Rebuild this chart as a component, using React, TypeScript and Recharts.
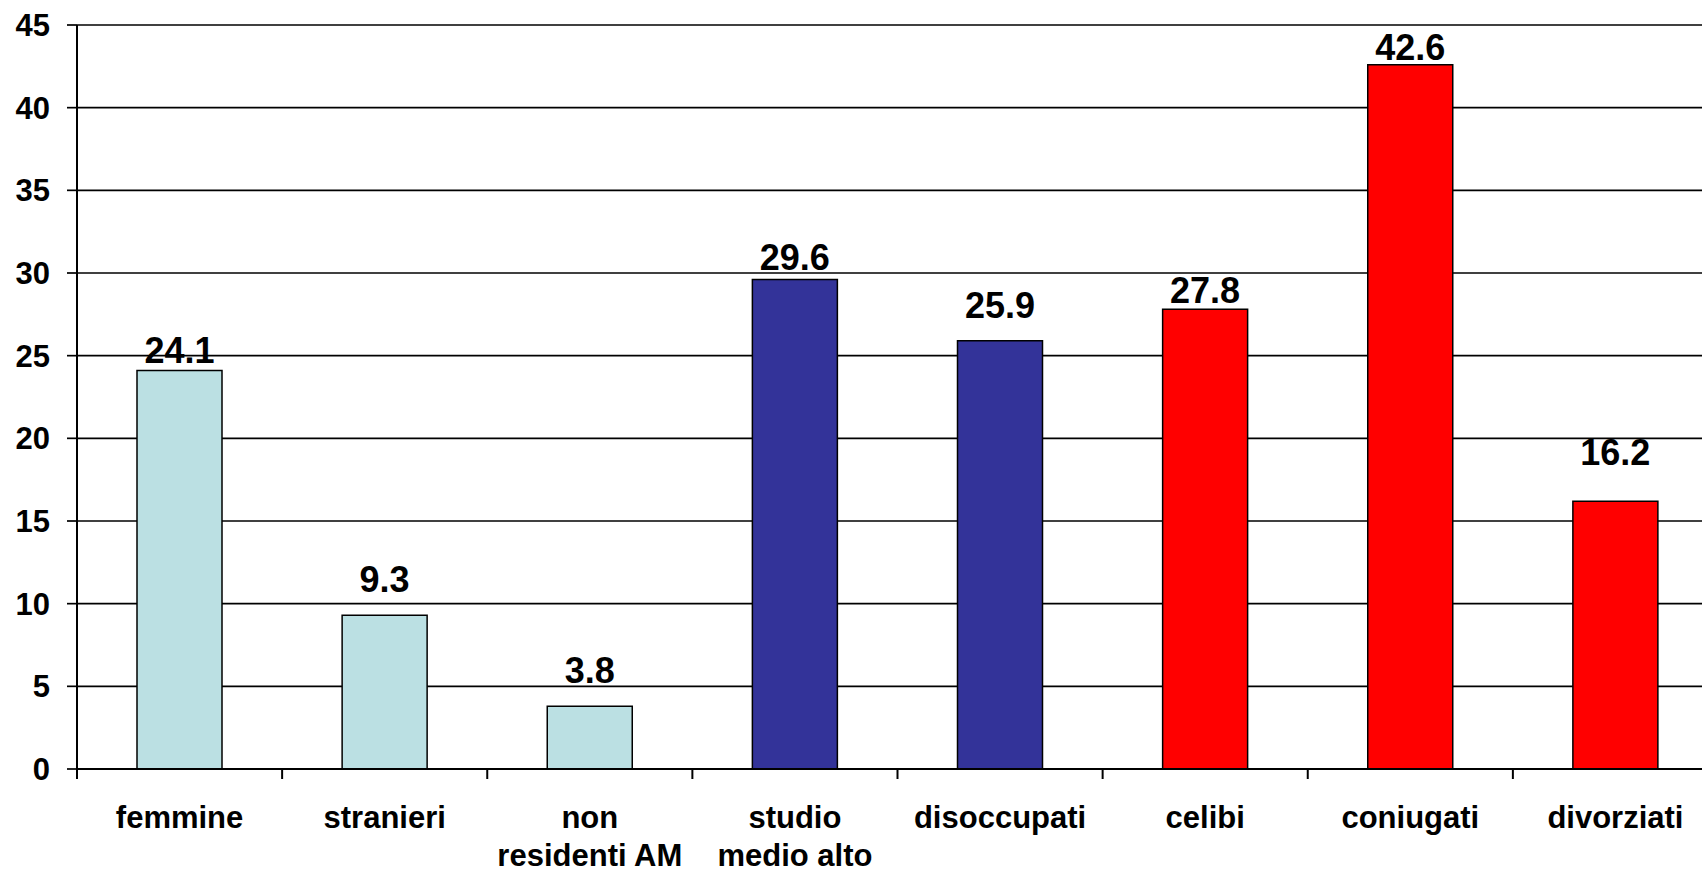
import React from "react";
import { BarChart, Bar, XAxis, YAxis, CartesianGrid, Cell, LabelList } from "recharts";

const categories = [
  "femmine",
  "stranieri",
  "non\nresidenti AM",
  "studio\nmedio alto",
  "disoccupati",
  "celibi",
  "coniugati",
  "divorziati",
];
const values = [24.1, 9.3, 3.8, 29.6, 25.9, 27.8, 42.6, 16.2];
const groups = [0, 0, 0, 1, 1, 2, 2, 2];
const yTicks = [0, 5, 10, 15, 20, 25, 30, 35, 40, 45];

// styling
const groupColors = ["#BBE0E3", "#333399", "#FF0000"];
const labelLift = [8, 23, 23, 10, 23, 6, 5, 36];

const FONT = "'Liberation Sans', Arial, Helvetica, sans-serif";
const CHART_W = 1718;
const CHART_H = 873;
const MARGIN = { top: 25, right: 0, left: 0, bottom: 4 };
const Y_AXIS_W = 77;
const X_AXIS_H = 100;
const AXIS_Y = CHART_H - MARGIN.bottom - X_AXIS_H;
const PLOT_W = CHART_W - MARGIN.left - MARGIN.right - Y_AXIS_W;
const BAND = PLOT_W / categories.length;

const data = categories.map((name, i) => ({ name, value: values[i], group: groups[i] }));

const CategoryTick = (props: any) => {
  const { x, payload } = props;
  const lines = String(payload.value).split("\n");
  const left = x - BAND / 2;
  return (
    <g>
      <line x1={left} x2={left} y1={AXIS_Y} y2={AXIS_Y + 10} stroke="#000" strokeWidth={2} />
      <text
        x={x}
        y={AXIS_Y + 59}
        textAnchor="middle"
        fontFamily={FONT}
        fontWeight="bold"
        fontSize={31}
        fill="#000"
      >
        {lines.map((l, i) => (
          <tspan key={i} x={x} dy={i === 0 ? 0 : 38}>
            {l}
          </tspan>
        ))}
      </text>
    </g>
  );
};

const ValueLabel = (props: any) => {
  const { x, y, width, value, index } = props;
  const lift = labelLift[index] ?? 8;
  return (
    <text
      x={x + width / 2}
      y={y - lift}
      textAnchor="middle"
      fontFamily={FONT}
      fontWeight="bold"
      fontSize={36}
      fill="#000"
    >
      {Number(value).toFixed(1)}
    </text>
  );
};

export default function App() {
  return (
    <div
      style={{
        position: "absolute",
        left: 0,
        top: 0,
        width: 1702,
        height: 873,
        overflow: "hidden",
        background: "#fff",
      }}
    >
      <BarChart width={CHART_W} height={CHART_H} data={data} margin={MARGIN}>
        <CartesianGrid vertical={false} stroke="#000" strokeWidth={1.7} />
        <XAxis
          dataKey="name"
          interval={0}
          tickLine={false}
          tickSize={10}
          tickMargin={0}
          height={X_AXIS_H}
          axisLine={{ stroke: "#000", strokeWidth: 2 }}
          tick={<CategoryTick />}
        />
        <YAxis
          type="number"
          domain={[0, 45]}
          ticks={yTicks}
          interval={0}
          width={Y_AXIS_W}
          tickSize={10}
          tickMargin={17}
          axisLine={{ stroke: "#000", strokeWidth: 2 }}
          tickLine={{ stroke: "#000", strokeWidth: 1.7 }}
          tick={{ fill: "#000", fontSize: 31, fontWeight: "bold", fontFamily: FONT }}
        />
        <Bar dataKey="value" barSize={85} stroke="#000" strokeWidth={1.5} isAnimationActive={false}>
          {data.map((d, i) => (
            <Cell key={i} fill={groupColors[d.group]} />
          ))}
          <LabelList dataKey="value" content={<ValueLabel />} />
        </Bar>
      </BarChart>
    </div>
  );
}
